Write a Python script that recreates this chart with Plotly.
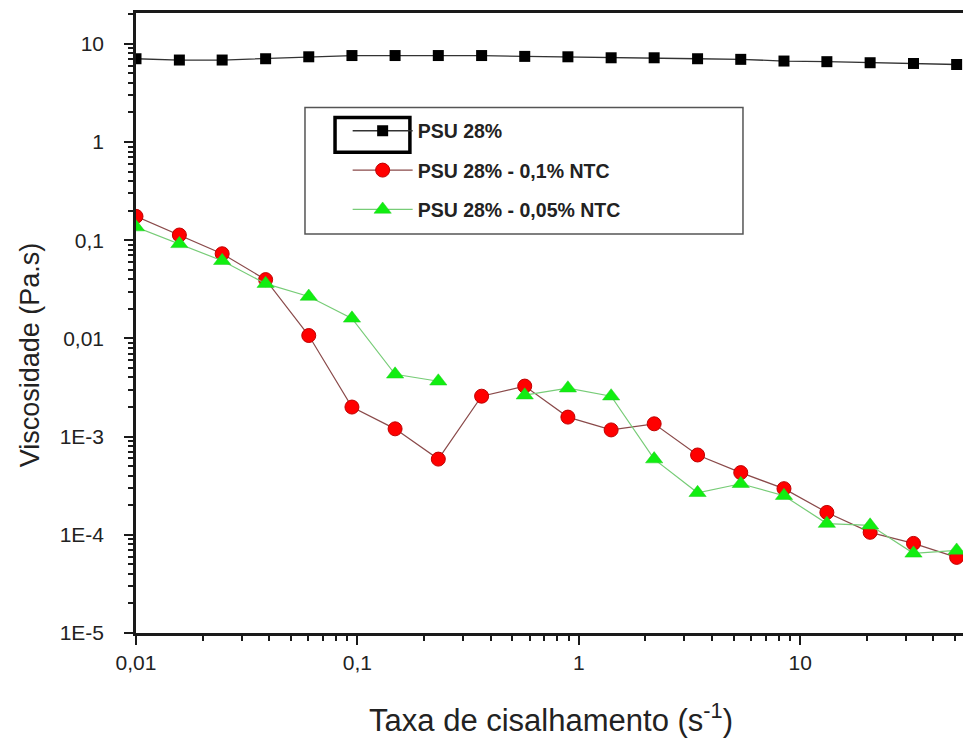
import plotly.graph_objects as go

# Shear rate (s^-1)
shear_rate = [0.01, 0.0157, 0.0245, 0.0385, 0.0603, 0.0945, 0.148, 0.232, 0.364, 0.570,
              0.893, 1.40, 2.19, 3.44, 5.39, 8.45, 13.2, 20.7, 32.5, 50.9]

visc_psu = [7.05, 6.84, 6.84, 7.05, 7.38, 7.6, 7.6, 7.6, 7.6, 7.45,
            7.38, 7.21, 7.21, 7.05, 6.95, 6.68, 6.58, 6.42, 6.31, 6.16]

visc_01 = [0.175, 0.113, 0.0728, 0.0397, 0.0107, 0.0020, 0.0012, 0.00059, 0.00258, 0.00327,
           0.00158, 0.00117, 0.00135, 0.00065, 0.00043, 0.000295, 0.000169, 0.000106, 0.0000817, 0.0000589]

visc_005 = [0.136, 0.0918, 0.0618, 0.0361, 0.0267, 0.0160, 0.00431, 0.00366, None, 0.00264,
            0.00311, 0.00258, 0.00059, 0.000268, 0.000331, 0.00025, 0.00013, 0.000125, 0.0000647, 0.0000693]

names = ["PSU 28%", "PSU 28% - 0,1% NTC", "PSU 28% - 0,05% NTC"]

y_tickvals = [1e-5, 1e-4, 1e-3, 1e-2, 1e-1, 1, 10]
y_ticktext = ["1E-5", "1E-4", "1E-3", "0,01", "0,1", "1", "10"]
x_tickvals = [0.01, 0.1, 1, 10]
x_ticktext = ["0,01", "0,1", "1", "10"]

fig = go.Figure()
fig.add_trace(go.Scatter(x=shear_rate, y=visc_psu, name=names[0], mode="lines+markers",
                         legendgroup="a",
                         line=dict(color="#333333", width=1.3),
                         marker=dict(symbol="square", size=11, color="black")))
fig.add_trace(go.Scatter(x=shear_rate, y=visc_01, name=names[1], mode="lines+markers",
                         legendgroup="b",
                         line=dict(color="#8a4a4a", width=1.2),
                         marker=dict(symbol="circle", size=14, color="#ff0000",
                                     line=dict(color="#c00000", width=1))))
fig.add_trace(go.Scatter(x=shear_rate, y=visc_005, name=names[2], mode="lines+markers",
                         legendgroup="c", connectgaps=False,
                         line=dict(color="#77cc77", width=1.2),
                         marker=dict(symbol="triangle-up", size=15, color="#11ee11",
                                     line=dict(color="#22cc22", width=0.5))))

font_family = "Liberation Sans, Arial, sans-serif"

# page body has an 8px margin; size the figure so the plot area lands where the reference has it
fig.update_layout(
    width=963, height=732,
    margin=dict(l=128, r=5, t=2, b=107),
    plot_bgcolor="white", paper_bgcolor="white",
    font=dict(family=font_family, color="#222222"),
    legend=dict(x=0.255, y=0.841, xanchor="left", yanchor="top",
                bgcolor="rgba(0,0,0,0)", borderwidth=0,
                itemwidth=60,
                font=dict(size=19.5, family=font_family, color="#222222", weight="bold"),
                tracegroupgap=11, traceorder="grouped"),
    xaxis=dict(type="log", range=[-2, 1.749],
               tickvals=x_tickvals, ticktext=x_ticktext,
               showgrid=False, zeroline=False,
               showline=True, linecolor="#1a1a1a", linewidth=2.5, mirror=True,
               ticks="outside", ticklen=9, tickwidth=2, tickcolor="#1a1a1a",
               minor=dict(ticks="outside", ticklen=5, tickwidth=1.5, tickcolor="#1a1a1a",
                          dtick="D1", showgrid=False),
               tickfont=dict(size=21),
               title=dict(text="Taxa de cisalhamento (s<sup>-1</sup>)", font=dict(size=31),
                          standoff=37)),
    yaxis=dict(type="log", range=[-5, 1.314],
               tickvals=y_tickvals, ticktext=y_ticktext,
               showgrid=False, zeroline=False,
               showline=True, linecolor="#1a1a1a", linewidth=2.5, mirror=False,
               ticks="outside", ticklen=9, tickwidth=2, tickcolor="#1a1a1a",
               minor=dict(ticks="outside", ticklen=5, tickwidth=1.5, tickcolor="#1a1a1a",
                          dtick="D1", showgrid=False),
               tickfont=dict(size=21), ticklabelstandoff=16),
    annotations=[
        dict(text="Viscosidade (Pa.s)", xref="paper", yref="paper",
             x=-0.1277, y=0.448, xanchor="center", yanchor="middle",
             textangle=-90, showarrow=False, font=dict(size=27, family=font_family, color="#222222")),
    ],
    shapes=[
        # right frame line
        dict(type="line", xref="paper", yref="paper", x0=1, x1=1, y0=0, y1=1,
             line=dict(color="#888888", width=1.5)),
        # legend box
        dict(type="rect", xref="paper", yref="paper", x0=0.2036, x1=0.7313, y0=0.6437, y1=0.8475,
             line=dict(color="#555555", width=1.5), fillcolor="rgba(0,0,0,0)"),
        # highlight box around first legend symbol
        dict(type="rect", xref="paper", yref="paper", x0=0.2398, x1=0.330, y0=0.7753, y1=0.8315,
             line=dict(color="black", width=3.5), fillcolor="rgba(0,0,0,0)"),
    ],
)

fig.write_html("out.html")
